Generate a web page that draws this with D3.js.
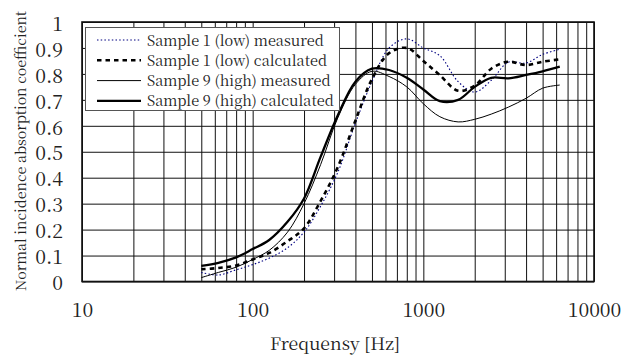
<!DOCTYPE html>
<html>
<head>
<meta charset="utf-8">
<script src="https://cdn.jsdelivr.net/npm/d3@7"></script>
<style>
  body { margin: 0; background: #fff; }
  svg text { font-family: "Noto Serif CJK JP", "Liberation Serif", serif; fill: #222; }
</style>
</head>
<body>
<div id="chart"></div>
<script>
// 1/3 octave band centre frequencies [Hz]
var freqs = [50, 63, 80, 100, 125, 160, 200, 250, 315, 400, 500, 630, 800, 1000, 1250, 1600, 2000, 2500, 3150, 4000, 5000, 6300];

// absorption coefficients
var s1Measured   = [0.035, 0.025, 0.045, 0.065, 0.09, 0.13, 0.19, 0.29, 0.42, 0.61, 0.77, 0.90, 0.935, 0.90, 0.87, 0.77, 0.73, 0.775, 0.845, 0.842, 0.875, 0.895];
var s1Calculated = [0.047, 0.052, 0.062, 0.085, 0.11, 0.155, 0.205, 0.31, 0.44, 0.62, 0.78, 0.88, 0.90, 0.85, 0.795, 0.735, 0.755, 0.82, 0.847, 0.834, 0.847, 0.856];
var s9Measured   = [0.015, 0.035, 0.055, 0.085, 0.12, 0.19, 0.30, 0.45, 0.63, 0.76, 0.81, 0.79, 0.75, 0.685, 0.635, 0.615, 0.625, 0.645, 0.672, 0.706, 0.745, 0.757];
var s9Calculated = [0.06, 0.072, 0.093, 0.125, 0.16, 0.23, 0.32, 0.48, 0.64, 0.77, 0.82, 0.815, 0.785, 0.74, 0.695, 0.70, 0.75, 0.785, 0.783, 0.796, 0.81, 0.828];

var seriesNames = ["Sample 1 (low) measured", "Sample 1 (low) calculated", "Sample 9 (high) measured", "Sample 9 (high) calculated"];
var xTicks = [10, 100, 1000, 10000];
var yTicks = [0, 0.1, 0.2, 0.3, 0.4, 0.5, 0.6, 0.7, 0.8, 0.9, 1];

var W = 636, H = 356;
var border = {top: 22, right: 42, bottom: 74.5, left: 82};
var plotW = W - border.left - border.right;
var plotH = H - border.top - border.bottom;

var svg = d3.select("#chart").append("svg")
   .attr("width", W).attr("height", H);

var xScale = d3.scaleLog().domain([10, 10000]).range([border.left, border.left + plotW]);
var yScale = d3.scaleLinear().domain([0, 1]).range([border.top + plotH, border.top]);

// minor/major grid for the log axis: 1..9 x each decade
var gridX = [];
[10, 100, 1000].forEach(function(d) { for (var k = 1; k < 10; k++) gridX.push(d * k); });
gridX.push(10000);

var grid = svg.append("g").attr("class", "grid");
grid.append("g")
   .attr("transform", "translate(0," + (border.top + plotH) + ")")
   .call(d3.axisBottom(xScale).tickValues(gridX).tickSize(-plotH).tickFormat(""));
grid.append("g")
   .attr("transform", "translate(" + border.left + ",0)")
   .call(d3.axisLeft(yScale).tickValues(yTicks).tickSize(-plotW).tickFormat(""));
grid.selectAll(".domain").remove();
grid.selectAll("line").style("stroke", "#111").style("stroke-width", 1);

// tick labels
var xAx = svg.append("g")
   .attr("transform", "translate(0," + (border.top + plotH) + ")")
   .call(d3.axisBottom(xScale).tickValues(xTicks).tickSize(0).tickPadding(22).tickFormat(d3.format("d")));
var yAx = svg.append("g")
   .attr("transform", "translate(" + (border.left - 19) + ",0)")
   .call(d3.axisLeft(yScale).tickValues(yTicks).tickSize(0).tickPadding(0).tickFormat(function(d) { return d3.format("")(+d.toFixed(1)); }));
[xAx, yAx].forEach(function(a) {
   a.select(".domain").remove();
   a.attr("font-family", null);
   a.selectAll("text").style("font-size", "19.5px").attr("fill", "#222");
});
yAx.selectAll("text").attr("dy", "0.42em");

// plot border
svg.append("rect")
   .attr("x", border.left).attr("y", border.top)
   .attr("width", plotW).attr("height", plotH)
   .style("fill", "none").style("stroke", "#111").style("stroke-width", 1.6);

// curves
var styles = [
   {values: s1Measured,   color: "#000080", width: 1.1, dash: "1.5,2.2"},
   {values: s1Calculated, color: "#000",    width: 2.6, dash: "4.5,4"},
   {values: s9Measured,   color: "#000",    width: 1,   dash: null},
   {values: s9Calculated, color: "#000",    width: 2.3, dash: null}
];
var line = d3.line()
   .x(function(d) { return xScale(d[0]); })
   .y(function(d) { return yScale(d[1]); })
   .curve(d3.curveCatmullRom.alpha(0.5));
styles.forEach(function(s) {
   svg.append("path")
      .datum(freqs.map(function(f, i) { return [f, s.values[i]]; }))
      .attr("d", line)
      .style("fill", "none")
      .style("stroke", s.color)
      .style("stroke-width", s.width)
      .style("stroke-dasharray", s.dash);
});

// legend
var lg = svg.append("g").attr("class", "legend");
lg.append("rect")
   .attr("x", 85.5).attr("y", 27.5).attr("width", 254).attr("height", 83)
   .style("fill", "#fff").style("stroke", "#555").style("stroke-width", 1);
seriesNames.forEach(function(name, i) {
   var y = 40 + i * 20.3;
   lg.append("line")
      .attr("x1", 97).attr("x2", 141).attr("y1", y).attr("y2", y)
      .style("stroke", styles[i].color)
      .style("stroke-width", styles[i].width)
      .style("stroke-dasharray", styles[i].dash);
   lg.append("text")
      .attr("x", 147).attr("y", y + 5.5)
      .style("font-size", "14.5px")
      .text(name);
});

// axis titles
svg.append("text")
   .attr("x", 335).attr("y", 350)
   .attr("text-anchor", "middle")
   .attr("textLength", 130).attr("lengthAdjust", "spacingAndGlyphs")
   .style("font-size", "17px")
   .text("Frequensy [Hz]");
svg.append("text")
   .attr("transform", "translate(26," + 151 + ") rotate(-90)")
   .attr("text-anchor", "middle")
   .attr("textLength", 280).attr("lengthAdjust", "spacingAndGlyphs")
   .style("font-size", "14px")
   .text("Normal incidence absorption coefficient");
</script>
</body>
</html>
